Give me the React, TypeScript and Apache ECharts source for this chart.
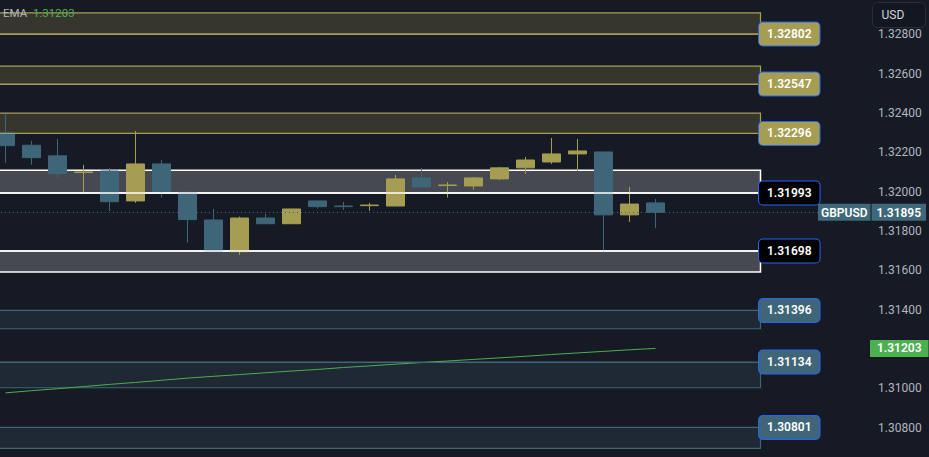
import { useEffect, useRef } from "react";
import * as echarts from "echarts";

// ---- data ----
const categories = [
  "01", "02", "03", "04", "05", "06", "07", "08", "09", "10",
  "11", "12", "13", "14", "15", "16", "17", "18", "19", "20",
  "21", "22", "23", "24", "25", "26", "27", "28", "29", "30",
];
const opens = [1.32302, 1.32236, 1.32182, 1.32097, 1.32105, 1.31953, 1.32141, 1.31997, 1.31856, 1.31695, 1.31866, 1.31837, 1.31953, 1.31927, 1.31929, 1.31927, 1.3207, 1.32031, 1.32029, 1.32065, 1.32121, 1.32151, 1.32192, 1.32202, 1.31882, 1.31943];
const closes = [1.32234, 1.32173, 1.32092, 1.321, 1.31949, 1.32141, 1.32, 1.31858, 1.31698, 1.31866, 1.31837, 1.31912, 1.31924, 1.31924, 1.31932, 1.32065, 1.32024, 1.32034, 1.3207, 1.32121, 1.32161, 1.32192, 1.32207, 1.31882, 1.31937, 1.31895];
const lows = [1.32147, 1.32136, 1.32071, 1.31988, 1.31902, 1.31943, 1.3197, 1.31741, 1.31685, 1.31678, 1.31837, 1.31837, 1.31914, 1.31907, 1.31903, 1.31927, 1.32024, 1.3197, 1.3201, 1.32059, 1.3209, 1.32141, 1.32105, 1.3169, 1.31846, 1.31815];
const highs = [1.32395, 1.32258, 1.32268, 1.32136, 1.32121, 1.32309, 1.32161, 1.31998, 1.31912, 1.31873, 1.31887, 1.31912, 1.31953, 1.31948, 1.31943, 1.32085, 1.32121, 1.32049, 1.32075, 1.32126, 1.32176, 1.32273, 1.32268, 1.32202, 1.32024, 1.31963];
const emaValues = [1.30977, 1.30988, 1.30998, 1.31009, 1.3102, 1.3103, 1.31041, 1.31052, 1.31061, 1.3107, 1.31079, 1.31088, 1.31096, 1.31106, 1.31114, 1.31123, 1.31131, 1.31139, 1.31147, 1.31155, 1.31163, 1.31172, 1.3118, 1.31188, 1.31196, 1.31203];

const zoneTops = [1.32909, 1.32638, 1.32399, 1.32109, 1.31698, 1.31396, 1.31134, 1.30801];
const zoneBottoms = [1.32802, 1.32547, 1.32296, 1.31993, 1.31592, 1.31303, 1.31003, 1.30695];
const zoneLevels = [1.32802, 1.32547, 1.32296, 1.31993, 1.31698, 1.31396, 1.31134, 1.30801];
const zoneKinds = ["supply", "supply", "supply", "key", "key", "demand", "demand", "demand"];

const symbolName = "GBPUSD";
const lastPrice = 1.31895;
const emaName = "EMA";
const emaLast = 1.31203;
const currency = "USD";

const yMin = 1.306;
const yMax = 1.33;
const yStep = 0.002;

// ---- styles / layout ----
const BG = "#161a25";
const UP = "#a59d52";
const DOWN = "#3e6678";
const EMA_COLOR = "#4caf50";
const FONT = "Roboto, 'Noto Sans', sans-serif";
const kindStyle: Record<string, { fill: string; line: string; labelBg: string; lw: number }> = {
  supply: { fill: "#36362e", line: "#a69e55", labelBg: "#a59d52", lw: 1.2 },
  key: { fill: "#464951", line: "#ffffff", labelBg: "#000000", lw: 1.5 },
  demand: { fill: "#1e2934", line: "#3e6678", labelBg: "#3e6678", lw: 1.2 },
};
// chart canvas is larger than the page and offset so that the plot bleeds past the edges
const OFF_X = 10;
const OFF_Y = 5;
const CHART_W = 939;
const CHART_H = 472;
const ZONE_LEFT = -3;
const ZONE_RIGHT = 760.5;
const PRICE_LINE_END = 818;
const SCALE_LEFT = 870;

export default function App() {
  const ref = useRef<HTMLDivElement>(null);

  useEffect(() => {
    if (!ref.current) return;
    const chart = echarts.init(ref.current, undefined, { renderer: "svg" });

    const candleData = opens.map((o, i) => [o, closes[i], lows[i], highs[i]]);

    const zoneAreas = zoneTops.map((top, i) => {
      const st = kindStyle[zoneKinds[i]];
      return [
        {
          coord: [ZONE_LEFT, top],
          itemStyle: { color: st.fill, borderColor: st.line, borderWidth: st.lw },
        },
        { coord: [ZONE_RIGHT, zoneBottoms[i]] },
      ];
    });

    const zoneLabelLines = zoneLevels.map((v, i) => {
      const st = kindStyle[zoneKinds[i]];
      return [
        {
          coord: [ZONE_LEFT, v],
          lineStyle: { color: st.line, width: st.lw, type: "solid" },
          label: {
            show: true,
            position: "end",
            distance: -1.5,
            formatter: v.toFixed(5),
            color: "#ffffff",
            fontSize: 12,
            fontWeight: 600,
            fontFamily: FONT,
            backgroundColor: st.labelBg,
            borderColor: "#2962ff",
            borderWidth: 1,
            borderRadius: 4,
            padding: [6, 8, 5, 8],
          },
        },
        { coord: [ZONE_RIGHT, v] },
      ];
    });

    const option: any = {
      animation: false,
      backgroundColor: BG,
      textStyle: { fontFamily: FONT },
      title: {
        left: OFF_X - 2,
        top: OFF_Y + 2,
        text: `{a|${emaName}}  {b|${emaLast.toFixed(5)}}`,
        textStyle: {
          fontWeight: "normal",
          fontSize: 11.5,
          rich: {
            a: { color: "#b2b5be", fontSize: 11.5, fontWeight: "normal", fontFamily: FONT },
            b: { color: EMA_COLOR, fontSize: 11.5, fontWeight: "normal", fontFamily: FONT },
          },
        },
      },
      grid: [
        { left: OFF_X - 7.5, top: 0, width: 780, height: CHART_H },
        { left: OFF_X + ZONE_LEFT, top: 0, width: SCALE_LEFT - ZONE_LEFT, height: CHART_H },
      ],
      xAxis: [
        { type: "category", gridIndex: 0, data: categories, boundaryGap: true, show: false },
        { type: "value", gridIndex: 1, min: ZONE_LEFT, max: SCALE_LEFT, show: false },
      ],
      yAxis: [
        { type: "value", gridIndex: 0, min: yMin, max: yMax, interval: yStep, show: false },
        {
          type: "value",
          gridIndex: 1,
          position: "right",
          min: yMin,
          max: yMax,
          interval: yStep,
          axisLine: { show: false },
          axisTick: { show: false },
          splitLine: { show: false },
          axisLabel: {
            color: "#b2b5be",
            fontSize: 12,
            fontFamily: FONT,
            margin: 8,
            showMinLabel: false,
            showMaxLabel: false,
            formatter: (val: number) => val.toFixed(5),
          },
        },
      ],
      series: [
        {
          name: "zones",
          type: "line",
          xAxisIndex: 1,
          yAxisIndex: 1,
          data: [],
          clip: false,
          silent: true,
          z: 1,
          markArea: { silent: true, data: zoneAreas },
          markLine: {
            silent: true,
            symbol: ["none", "none"],
            data: [
              [
                {
                  coord: [ZONE_LEFT, lastPrice],
                  lineStyle: { color: DOWN, width: 1, type: [1, 3] },
                  label: {
                    show: true,
                    position: "end",
                    distance: 0,
                    formatter: `{a|${symbolName}}{g|}{b|${lastPrice.toFixed(5)}}`,
                    rich: {
                      a: {
                        color: "#ffffff",
                        backgroundColor: "#3f6878",
                        fontSize: 12,
                        fontWeight: 600,
                        fontFamily: FONT,
                        padding: [3, 3, 2, 3],
                        lineHeight: 12,
                      },
                      g: { width: 1, backgroundColor: "transparent" },
                      b: {
                        color: "#ffffff",
                        backgroundColor: "#3f6878",
                        fontSize: 12,
                        fontWeight: 600,
                        fontFamily: FONT,
                        padding: [3, 5, 2, 5],
                        lineHeight: 12,
                      },
                    },
                  },
                },
                { coord: [PRICE_LINE_END, lastPrice] },
              ],
            ],
          },
        },
        {
          name: "candles",
          type: "candlestick",
          xAxisIndex: 0,
          yAxisIndex: 0,
          barWidth: 19,
          z: 3,
          data: candleData,
          itemStyle: {
            color: UP,
            color0: DOWN,
            borderColor: UP,
            borderColor0: DOWN,
            borderWidth: 1,
          },
        },
        {
          name: emaName,
          type: "line",
          xAxisIndex: 0,
          yAxisIndex: 0,
          data: emaValues,
          showSymbol: false,
          symbol: "none",
          z: 4,
          lineStyle: { color: EMA_COLOR, width: 1 },
        },
        {
          name: "levels",
          type: "line",
          xAxisIndex: 1,
          yAxisIndex: 1,
          data: [],
          clip: false,
          silent: true,
          z: 6,
          markLine: {
            silent: true,
            symbol: ["none", "none"],
            data: [
              ...zoneLabelLines,
              [
                {
                  coord: [SCALE_LEFT - 1, emaLast],
                  lineStyle: { color: "rgba(0,0,0,0)", width: 0 },
                  label: {
                    show: true,
                    position: "end",
                    distance: 0,
                    formatter: emaLast.toFixed(5),
                    color: "#ffffff",
                    fontSize: 12,
                    fontWeight: 600,
                    fontFamily: FONT,
                    backgroundColor: EMA_COLOR,
                    padding: [3, 7, 2, 7],
                    lineHeight: 12,
                  },
                },
                { coord: [SCALE_LEFT, emaLast] },
              ],
            ],
          },
        },
      ],
      graphic: [
        {
          type: "group",
          right: 3,
          top: OFF_Y + 2,
          z: 100,
          children: [
            {
              type: "rect",
              shape: { x: 0, y: 0, width: 53, height: 25, r: 5 },
              style: { fill: "#131722", stroke: "#2a2e39", lineWidth: 1 },
            },
            {
              type: "text",
              x: 9,
              y: 12.5,
              style: {
                text: currency,
                fill: "#d1d4dc",
                fontSize: 12,
                fontFamily: FONT,
                verticalAlign: "middle",
              },
            },
          ],
        },
      ],
    };

    chart.setOption(option);
    return () => chart.dispose();
  }, []);

  return (
    <div
      style={{
        position: "absolute",
        left: 0,
        top: 0,
        width: 929,
        height: 457,
        overflow: "hidden",
        background: BG,
      }}
    >
      <div
        ref={ref}
        style={{
          position: "absolute",
          left: -OFF_X,
          top: -OFF_Y,
          width: CHART_W,
          height: CHART_H,
        }}
      />
    </div>
  );
}
